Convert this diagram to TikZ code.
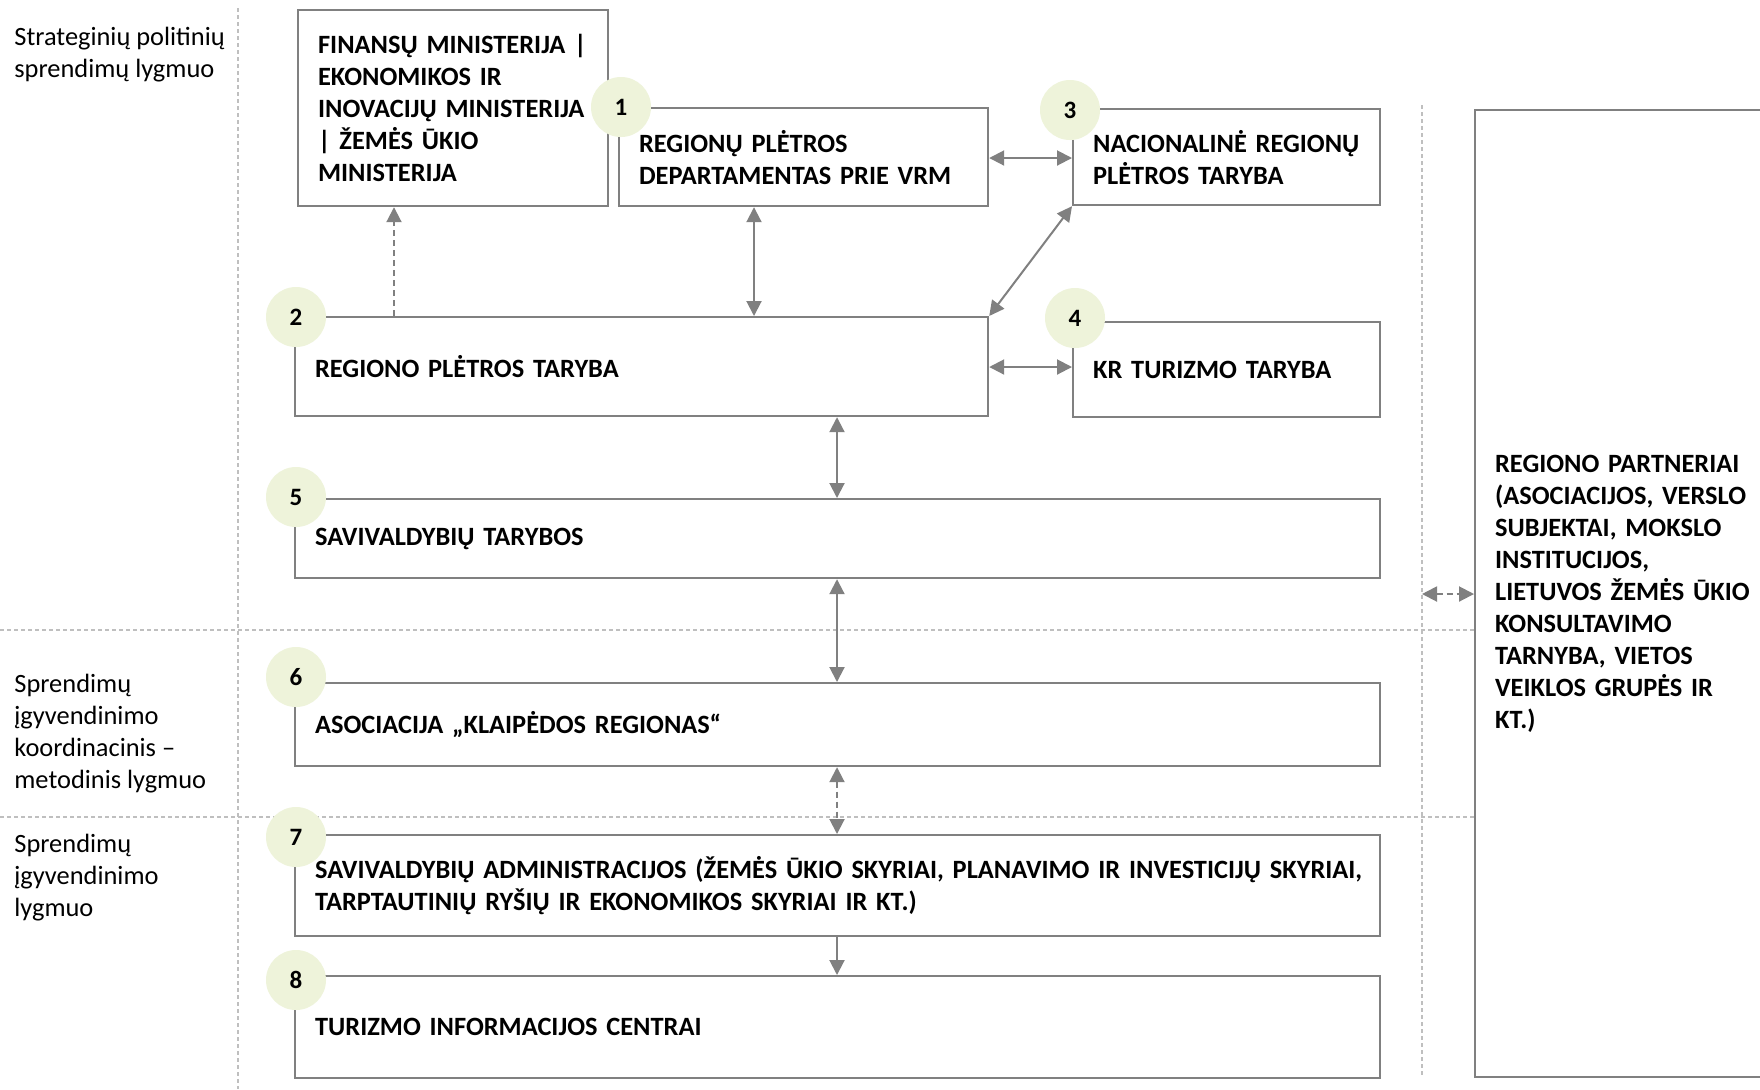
\documentclass[tikz,border=0pt]{standalone}
\usepackage{fontspec}
\setmainfont{Carlito}
\usetikzlibrary{arrows.meta}
\definecolor{boxgray}{HTML}{808080}
\definecolor{gridgray}{HTML}{BFBFBF}
\definecolor{circfill}{HTML}{EEF3DA}
\tikzset{
  box/.style={draw=boxgray, line width=1.1pt, rectangle, anchor=north west,
    inner xsep=10pt, inner ysep=0pt, align=left,
    font=\fontsize{13.2}{16}\selectfont\bfseries},
  numbadge/.style={circle, fill=circfill, minimum size=30pt, inner sep=0pt,
    font=\fontsize{12.5}{14}\selectfont\bfseries},
  levellabel/.style={anchor=west, inner sep=0pt, align=left,
    font=\fontsize{13.2}{16}\selectfont},
  gridline/.style={draw=gridgray, line width=0.6pt, dash pattern=on 2pt off 1.5pt},
  tipT/.tip={Triangle[length=7.5pt,width=7.5pt]},
  conn/.style={draw=boxgray, line width=1pt, tipT-tipT},
  conndash/.style={conn, dash pattern=on 3pt off 2pt},
}
\begin{document}
\begin{tikzpicture}[x=0.5pt,y=-0.5pt]
\useasboundingbox (0,0) rectangle (1760,1089);
\clip (0,0) rectangle (1760,1089);
\fill[white] (0,0) rectangle (1760,1089);

% grid lines
\draw[gridline] (238,8) -- (238,1089);
\draw[gridline] (1422,105) -- (1422,1078);
\draw[gridline] (0,630) -- (1474,630);
\draw[gridline] (0,817) -- (1474,817);

% level labels
\node[levellabel] (lv1) at (14,55) {Strateginių politinių\\sprendimų lygmuo};
\node[levellabel] (lv2) at (14,734) {Sprendimų\\įgyvendinimo\\koordinacinis –\\metodinis lygmuo};
\node[levellabel] (lv3) at (14,878) {Sprendimų\\įgyvendinimo\\lygmuo};

% boxes
\node[box, minimum width=155pt, text width=135pt, minimum height=98pt] (min) at (297,9)
  {FINANSŲ MINISTERIJA |\\EKONOMIKOS IR\\INOVACIJŲ MINISTERIJA\\| ŽEMĖS ŪKIO\\MINISTERIJA};
\node[box, minimum width=184.5pt, text width=164.5pt, minimum height=49pt] (b1) at (618,107)
  {REGIONŲ PLĖTROS\\DEPARTAMENTAS PRIE VRM};
\node[box, minimum width=153.5pt, text width=133.5pt, minimum height=48pt] (b3) at (1072,108)
  {NACIONALINĖ REGIONŲ\\PLĖTROS TARYBA};
\node[box, minimum width=346.5pt, text width=326.5pt, minimum height=49.5pt] (b2) at (294,316)
  {REGIONO PLĖTROS TARYBA};
\node[box, minimum width=153.5pt, text width=133.5pt, minimum height=47.5pt] (b4) at (1072,321)
  {KR TURIZMO TARYBA};
\node[box, minimum width=542.5pt, text width=522.5pt, minimum height=39.5pt] (b5) at (294,498)
  {SAVIVALDYBIŲ TARYBOS};
\node[box, minimum width=542.5pt, text width=522.5pt, minimum height=41.5pt] (b6) at (294,682)
  {ASOCIACIJA „KLAIPĖDOS REGIONAS“};
\node[box, minimum width=542.5pt, text width=522.5pt, minimum height=50.5pt] (b7) at (294,834)
  {\mbox{SAVIVALDYBIŲ ADMINISTRACIJOS (ŽEMĖS ŪKIO SKYRIAI, PLANAVIMO IR INVESTICIJŲ SKYRIAI,}\\TARPTAUTINIŲ RYŠIŲ IR EKONOMIKOS SKYRIAI IR KT.)};
\node[box, minimum width=542.5pt, text width=522.5pt, minimum height=51pt] (b8) at (294,975)
  {TURIZMO INFORMACIJOS CENTRAI};
\node[box, minimum width=163pt, text width=143pt, minimum height=483.5pt] (rp) at (1474,109)
  {REGIONO PARTNERIAI\\(ASOCIACIJOS, VERSLO\\SUBJEKTAI, MOKSLO\\INSTITUCIJOS,\\LIETUVOS ŽEMĖS ŪKIO\\KONSULTAVIMO\\TARNYBA, VIETOS\\VEIKLOS GRUPĖS IR\\KT.)};

% number badges
\node[numbadge] (n1) at (621,107) {1};
\node[numbadge] (n2) at (296,317) {2};
\node[numbadge] (n3) at (1070,110) {3};
\node[numbadge] (n4) at (1075,318) {4};
\node[numbadge] (n5) at (296,497) {5};
\node[numbadge] (n6) at (296,677) {6};
\node[numbadge] (n7) at (296,837) {7};
\node[numbadge] (n8) at (296,980) {8};

% connector positions
\coordinate (xa) at (394,0);
\coordinate (xb) at (754,0);
\coordinate (xc) at (837,0);
\coordinate (ya) at (0,158);
\coordinate (yb) at (0,367);
\coordinate (yc) at (0,594);
\coordinate (pl) at (1422,594);

% connectors
\draw[conndash, -tipT] (b2.north -| xa) -- (min.south -| xa);
\draw[conn] (b1.south -| xb) -- (b2.north -| xb);
\draw[conn] (b1.east |- ya) -- (b3.west |- ya);
\draw[conn] (b3.south west) -- (b2.north east);
\draw[conn] (b2.east |- yb) -- (b4.west |- yb);
\draw[conn] (b2.south -| xc) -- (b5.north -| xc);
\draw[conn] (b5.south -| xc) -- (b6.north -| xc);
\draw[conndash] (b6.south -| xc) -- (b7.north -| xc);
\draw[conn, -tipT] (b7.south -| xc) -- (b8.north -| xc);
\draw[conndash] (pl) -- (rp.west |- yc);
\end{tikzpicture}
\end{document}
